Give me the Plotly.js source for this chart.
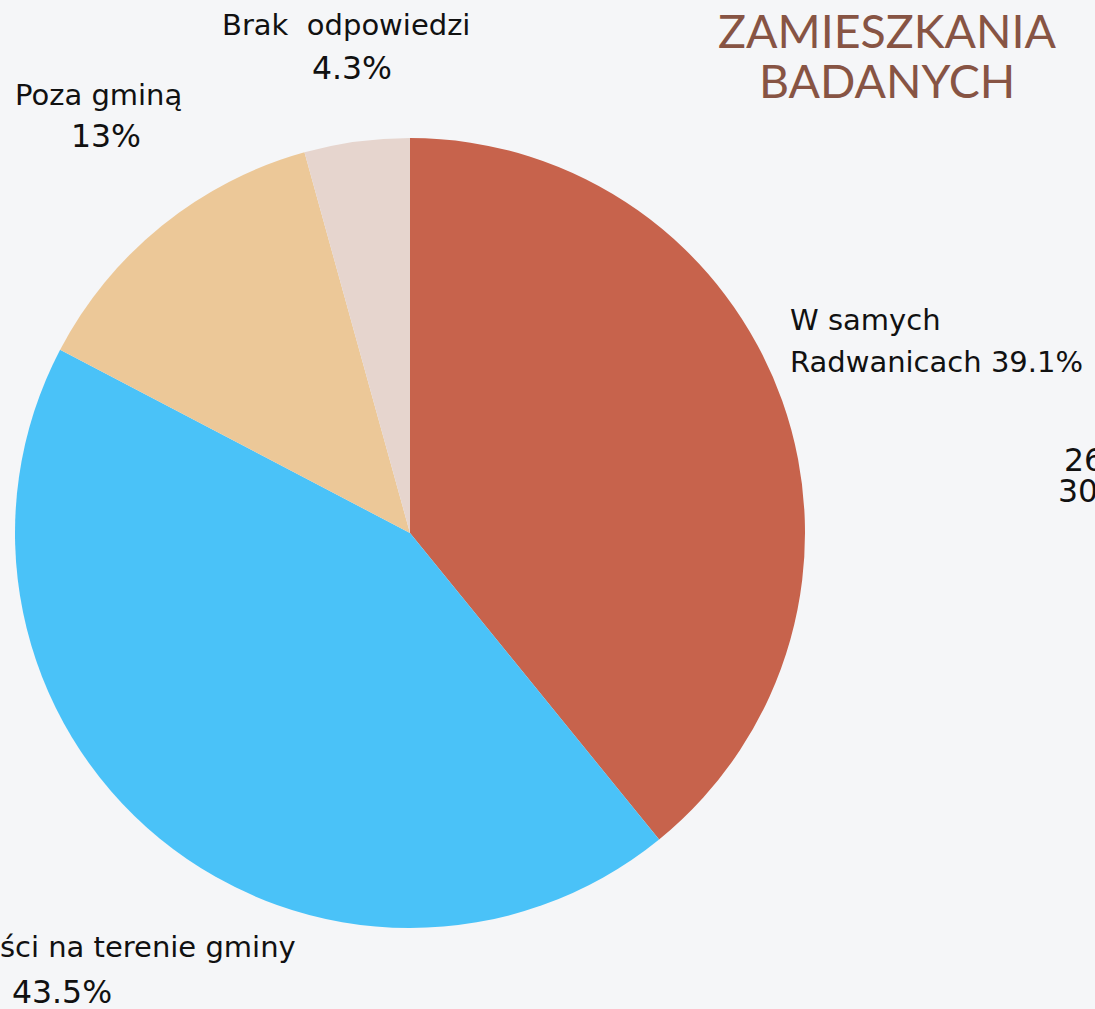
<!DOCTYPE html>
<html><head><meta charset="utf-8">
<script src="https://cdn.plot.ly/plotly-3.0.1.min.js"></script>
<style>html,body{margin:0;padding:0;background:#f5f6f8;overflow:hidden}#chart{width:1095px;height:1009px}</style>
</head><body><div id="chart"></div>
<script>
const categories = ["W samych Radwanicach", "W innych miejscowości na terenie gminy", "Poza gminą", "Brak  odpowiedzi"];
const labelLine1 = ["W samych", "W innych miejscowości na terenie gminy", "Poza gminą", "Brak  odpowiedzi"];
const labelLine2 = ["Radwanicach ", "", "", ""];
const values = [39.1, 43.5, 13, 4.3];
const colors = ["#C7634C", "#4AC2F8", "#ECC898", "#E6D5CE"];
const titleLines = ["MIEJSCE", "ZAMIESZKANIA", "BADANYCH"];
const strayTexts = ["26", "30"];

const W = 1095, H = 1009;
const px = x => x / W, py = y => 1 - y / H;
const font = {family: "DejaVu Sans, Verdana, sans-serif", size: 29, color: "#111"};
const fontPct = {family: "DejaVu Sans, Verdana, sans-serif", size: 31.5, color: "#111"};

// label anchor positions (pixels): [x1, y line1, x2, y line2, xanchor1, xanchor2]
const pos = [
  [788, 320, 788, 362, "left", "left"],
  [298, 947, 62, 992, "right", "center"],
  [98, 95, 106, 136, "center", "center"],
  [346, 25, 352, 68, "center", "center"]
];
const ann = [];
categories.forEach((c, i) => {
  const p = pos[i];
  ann.push({x: px(p[0]), y: py(p[1]), xref: "paper", yref: "paper", text: labelLine1[i], showarrow: false, xanchor: p[4], yanchor: "middle", font});
  const t2 = labelLine2[i] + values[i] + "%";
  ann.push({x: px(p[2]), y: py(p[3]), xref: "paper", yref: "paper", text: t2, showarrow: false, xanchor: p[5], yanchor: "middle",
    font: labelLine2[i] ? font : fontPct});
});
const tY = [-26, 30, 80];
titleLines.forEach((t, i) => {
  ann.push({x: px(887), y: py(tY[i]), xref: "paper", yref: "paper", text: t, showarrow: false, xanchor: "center", yanchor: "middle",
    font: {family: "Lato, sans-serif", size: 46.5, color: "#875444"}});
});
const sY = [460, 491];
const sX = [1062, 1056];
strayTexts.forEach((t, i) => {
  ann.push({x: px(sX[i]), y: py(sY[i]), xref: "paper", yref: "paper", text: t, showarrow: false, xanchor: "left", yanchor: "middle", font: fontPct});
});

const cx = 410, cy = 533, r = 395;
Plotly.newPlot("chart", [{
  type: "pie",
  labels: categories,
  values: values,
  sort: false,
  direction: "clockwise",
  rotation: 0,
  textinfo: "none",
  hoverinfo: "label+value",
  marker: {colors: colors, line: {width: 0}},
  showlegend: false,
  domain: {x: [px(cx - r), px(cx + r)], y: [py(cy + r), py(cy - r)]}
}], {
  width: W, height: H,
  margin: {l: 0, r: 0, t: 0, b: 0},
  paper_bgcolor: "#f5f6f8",
  plot_bgcolor: "#f5f6f8",
  annotations: ann
}, {displayModeBar: false, staticPlot: true});
</script></body></html>
